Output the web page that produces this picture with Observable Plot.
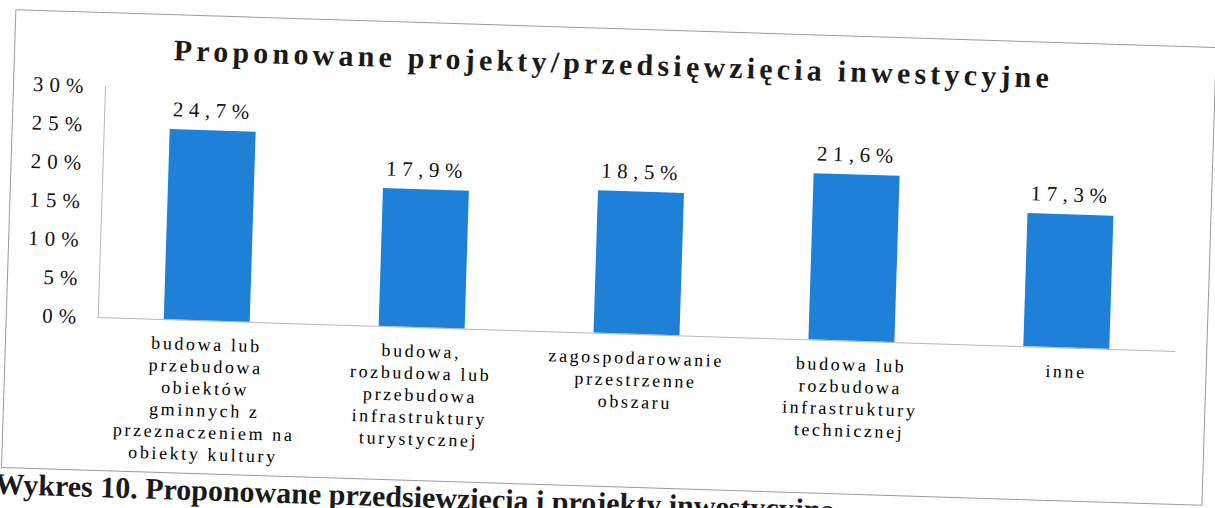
<!DOCTYPE html>
<html>
<head>
<meta charset="utf-8">
<script src="https://cdn.jsdelivr.net/npm/d3@7"></script>
<script src="https://cdn.jsdelivr.net/npm/@observablehq/plot@0.6"></script>
<style>
  html, body { margin: 0; padding: 0; background: #fff; overflow: hidden; }
  body { width: 1215px; height: 508px; position: relative; font-family: "Liberation Serif", "DejaVu Serif", serif; color: #1a1a1a; }
  #wrap { position: absolute; left: 0; top: 0; width: 1215px; height: 508px; transform: rotate(1.8deg); transform-origin: 607px 254px; }
  #box { position: absolute; left: 8px; top: 28px; width: 1200px; height: 457px; border: 1px solid #9a9a9a; }
  #title { position: absolute; left: 0; top: 44px; width: 1215px; text-align: center; font-weight: bold; font-size: 30px; letter-spacing: 4.2px; line-height: 40px; }
  #chart { position: absolute; left: 0; top: 70px; }
  #chart svg, #chart svg text { font-family: "Liberation Serif", serif !important; }
  #chart g[aria-label="y-axis tick label"] text { letter-spacing: 6px; }
  #chart g[aria-label="x-axis tick label"] text { letter-spacing: 2.6px; }
  #chart g[aria-label="text"] text { letter-spacing: 5.5px; }
  #caption { position: absolute; left: 2px; top: 486px; font-weight: bold; font-size: 30px; white-space: nowrap; line-height: 34px; }
</style>
</head>
<body>
<div id="wrap">
  <div id="box"></div>
  <div id="chart"></div>
  <div id="title">Proponowane projekty/przedsięwzięcia inwestycyjne</div>
  <div id="caption">Wykres 10. Proponowane przedsięwzięcia i projekty inwestycyjne</div>
</div>
<script>
const categories = [
  "budowa lub\nprzebudowa\nobiektów\ngminnych z\nprzeznaczeniem na\nobiekty kultury",
  "budowa,\nrozbudowa lub\nprzebudowa\ninfrastruktury\nturystycznej",
  "zagospodarowanie\nprzestrzenne\nobszaru",
  "budowa lub\nrozbudowa\ninfrastruktury\ntechnicznej",
  "inne"
];
const values = [24.7, 17.9, 18.5, 21.6, 17.3];
const yTicks = [0, 5, 10, 15, 20, 25, 30];

const data = categories.map((c, i) => ({category: c, value: values[i]}));
const fmt = v => v.toFixed(1).replace(".", ",") + "%";

const chart = Plot.plot({
  width: 1215,
  height: 410,
  marginLeft: 100,
  marginRight: 37,
  marginTop: 32,
  marginBottom: 147,
  style: {fontFamily: "Liberation Serif", color: "#111", background: "transparent"},
  x: {domain: categories, paddingInner: 0.6, paddingOuter: 0.3, label: null},
  y: {domain: [0, 30], label: null},
  marks: [
    Plot.frame({anchor: "left", stroke: "#b8b8b8"}),
    Plot.ruleY([0], {stroke: "#b8b8b8"}),
    Plot.barY(data, {x: "category", y: "value", fill: "#1f80d8"}),
    Plot.text(data, {x: "category", y: "value", text: d => fmt(d.value), dy: -20, fontSize: 21, fill: "#111"}),
    Plot.axisY({ticks: yTicks, tickFormat: d => d + "%", tickSize: 0, tickPadding: 16, fontSize: 21, fill: "#111", label: null}),
    Plot.axisX({tickSize: 0, tickPadding: 14, fontSize: 18, lineHeight: 1.22, fill: "#000", label: null, lineAnchor: "top"})
  ]
});
document.getElementById("chart").appendChild(chart);
</script>
</body>
</html>
